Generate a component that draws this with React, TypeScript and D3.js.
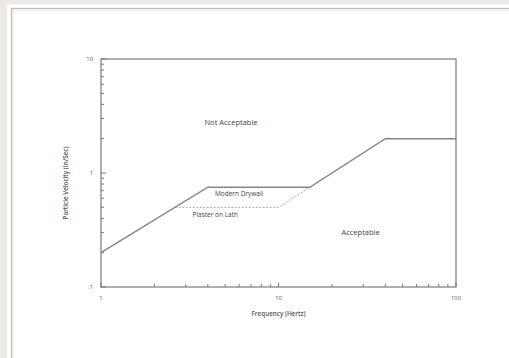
import React from 'react';
import * as d3 from 'd3';

// curves (frequency in Hz, velocity in in/sec)
const drywallFreq = [1, 4, 15, 40, 100];
const drywallVel = [0.2, 0.75, 0.75, 2, 2];
const plasterFreq = [2.62, 10, 15];
const plasterVel = [0.5, 0.5, 0.75];

const xMajor = [1, 10, 100];
const xMajorLabels = ['1', '10', '100'];
const yMajor = [0.1, 1, 10];
const yMajorLabels = ['.1', '1', '10'];

const regionLabels = ['Not Acceptable', 'Modern Drywall', 'Plaster on Lath', 'Acceptable'];
const regionFreq = [5.4, 6.0, 4.4, 29];
const regionVel = [2.72, 0.65, 0.43, 0.3];
const regionSize = [7.5, 6.5, 6.5, 7.5];

const W = 509;
const H = 358;
const margin = { top: 59, right: 53, bottom: 71, left: 101 };
const font = "'Open Sans', 'DejaVu Sans', sans-serif";

export default function App() {
  const x = d3.scaleLog().domain([1, 100]).range([margin.left, W - margin.right]);
  const y = d3.scaleLog().domain([0.1, 10]).range([H - margin.bottom, margin.top]);

  const line = d3.line<[number, number]>()
    .x(d => x(d[0]))
    .y(d => y(d[1]));

  const drywall = drywallFreq.map((f, i) => [f, drywallVel[i]] as [number, number]);
  const plaster = plasterFreq.map((f, i) => [f, plasterVel[i]] as [number, number]);

  const x0 = margin.left, x1 = W - margin.right;
  const y0 = H - margin.bottom, y1 = margin.top;

  const xMinor = x.ticks().filter(t => !xMajor.includes(t));
  const yMinor = y.ticks().filter(t => !yMajor.some(m => Math.abs(m - t) < 1e-9));

  const axisColor = '#7a7a7a';

  return (
    <svg width={W} height={H} style={{ position: 'absolute', left: 0, top: 0 }}>
      {/* page background and white panel */}
      <rect x={0} y={0} width={W} height={H} fill="#ece9e6" />
      <rect x={7} y={4} width={W - 7} height={H - 4} fill="#ffffff" />
      <rect x={11.5} y={8.5} width={W} height={H} fill="#ffffff" stroke="#bdbdbd" strokeWidth={1.3} />
      <path d={`M13,${H}V10H${W}`} fill="none" stroke="#e6e6e6" strokeWidth={1} />

      {/* frame */}
      <rect x={x0} y={y1} width={x1 - x0} height={y0 - y1} fill="none" stroke={axisColor} strokeWidth={1.2} />

      {/* x ticks */}
      {xMinor.map((t, i) => (
        <line key={'xm' + i} x1={x(t)} x2={x(t)} y1={y0} y2={y0 - 3} stroke={axisColor} strokeWidth={1} />
      ))}
      {xMajor.map((t, i) => (
        <g key={'xM' + i}>
          <line x1={x(t)} x2={x(t)} y1={y0} y2={y0 - 4.5} stroke={axisColor} strokeWidth={1} />
          <text x={x(t)} y={y0 + 13} textAnchor="middle" fontSize={5.8} fontFamily={font} fill="#555">{xMajorLabels[i]}</text>
        </g>
      ))}

      {/* y ticks */}
      {yMinor.map((t, i) => (
        <line key={'ym' + i} x1={x0} x2={x0 + 3} y1={y(t)} y2={y(t)} stroke={axisColor} strokeWidth={1} />
      ))}
      {yMajor.map((t, i) => (
        <g key={'yM' + i}>
          <line x1={x0} x2={x0 + 5} y1={y(t)} y2={y(t)} stroke={axisColor} strokeWidth={1} />
          <text x={x0 - 8} y={y(t) + 2} textAnchor="end" fontSize={5.8} fontFamily={font} fill="#555">{yMajorLabels[i]}</text>
        </g>
      ))}

      {/* curves */}
      <path d={line(plaster) || ''} fill="none" stroke="#a8a8a8" strokeWidth={1} strokeDasharray="2,1.5" />
      <path d={line(drywall) || ''} fill="none" stroke="#858585" strokeWidth={1.4} strokeLinejoin="miter" />

      {/* region labels */}
      {regionLabels.map((s, i) => (
        <text key={'r' + i} x={x(regionFreq[i])} y={y(regionVel[i])} textAnchor="middle" dominantBaseline="middle"
          fontSize={regionSize[i]} fontFamily={font} fill="#444">{s}</text>
      ))}

      {/* axis titles */}
      <text x={(x0 + x1) / 2} y={y0 + 29} textAnchor="middle" fontSize={6.3} fontWeight={600} fontFamily={font} fill="#555">
        Frequency (Hertz)
      </text>
      <text transform={`translate(66,${(y0 + y1) / 2 + 10}) rotate(-90)`} textAnchor="middle" dominantBaseline="middle"
        fontSize={6.3} fontWeight={600} fontFamily={font} fill="#555">
        Particle Velocity (In/Sec)
      </text>
    </svg>
  );
}
